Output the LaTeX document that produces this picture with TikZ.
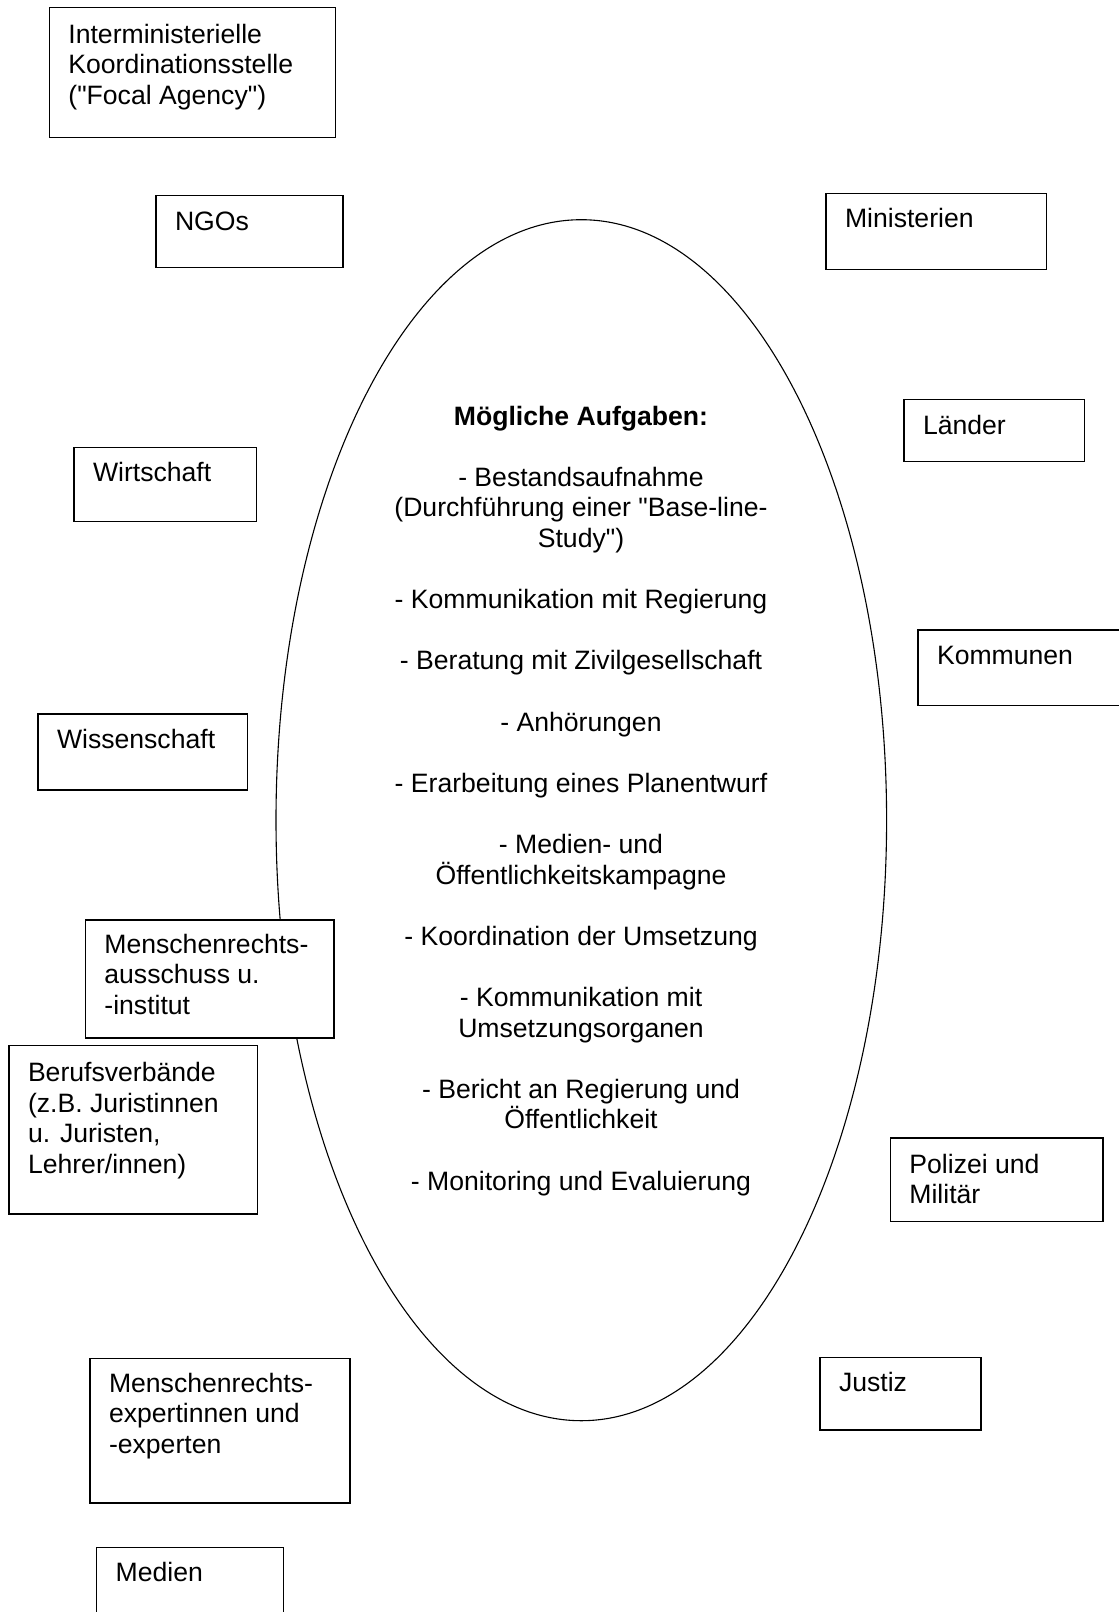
\documentclass[tikz,border=0pt]{standalone}
\usepackage{fontspec}
\setmainfont{Liberation Sans}[Ligatures=TeXOff]
\usetikzlibrary{shapes.geometric}
\tikzset{
  box/.style={draw, line width=1.3pt, fill=white, rectangle, inner sep=0pt, anchor=north west},
  lbl/.style={anchor=base west, align=left, inner sep=0pt, font=\fontsize{26.6}{30.6}\selectfont},
  oval/.style={draw, line width=1.1pt, ellipse, inner sep=0pt},
  tasks/.style={anchor=base, align=center, inner sep=0pt, font=\fontsize{26.6}{30.6}\selectfont}
}
\begin{document}
\begin{tikzpicture}[x=1pt, y=-1pt]
\clip (0,0) rectangle (1119,1612);
\fill[white] (0,0) rectangle (1119,1612);
% central ellipse
\node[oval, minimum width=610.6pt, minimum height=1201pt] (ell) at (581.3,820.2) {};
% anchor base = baseline of last line
\node[tasks] (tx) at (581,1190) {\textbf{Mögliche Aufgaben:}\\[30.6pt]
- Bestandsaufnahme\\(Durchführung einer "Base-line-\\Study")\\[30.6pt]
- Kommunikation mit Regierung\\[30.6pt]
- Beratung mit Zivilgesellschaft\\[30.6pt]
- Anhörungen\\[30.6pt]
- Erarbeitung eines Planentwurf\\[30.6pt]
- Medien- und\\Öffentlichkeitskampagne\\[30.6pt]
- Koordination der Umsetzung\\[30.6pt]
- Kommunikation mit\\Umsetzungsorganen\\[30.6pt]
- Bericht an Regierung und\\Öffentlichkeit\\[30.6pt]
- Monitoring und Evaluierung};
% boxes
\node[box, minimum width=286.3pt, minimum height=130pt] (focal) at (48.7,7) {};
\node[lbl] (focalt) at ([shift={(19.5,97.2)}]focal.north west) {Interministerielle\\Koordinationsstelle\\("Focal Agency")};
\node[box, minimum width=187pt, minimum height=72pt] (ngo) at (155.3,195) {};
\node[lbl] (ngot) at ([shift={(19.5,35)}]ngo.north west) {NGOs};
\node[box, minimum width=220.7pt, minimum height=76pt] (min) at (825.3,192.7) {};
\node[lbl] (mint) at ([shift={(19.5,35)}]min.north west) {Ministerien};
\node[box, minimum width=180.7pt, minimum height=62pt] (lae) at (903.3,399) {};
\node[lbl] (laet) at ([shift={(19.5,35)}]lae.north west) {Länder};
\node[box, minimum width=182.7pt, minimum height=74pt] (wir) at (73.3,446.7) {};
\node[lbl] (wirt) at ([shift={(19.5,35)}]wir.north west) {Wirtschaft};
\node[box, minimum width=220pt, minimum height=75.7pt] (kom) at (917.3,629.3) {};
\node[lbl] (komt) at ([shift={(19.5,35.5)}]kom.north west) {Kommunen};
\node[box, minimum width=209.4pt, minimum height=76pt] (wis) at (37.3,713.3) {};
\node[lbl] (wist) at ([shift={(19.5,35)}]wis.north west) {Wissenschaft};
\node[box, minimum width=248.6pt, minimum height=118pt] (mra) at (84.7,919.3) {};
\node[lbl] (mrat) at ([shift={(19.5,95.2)}]mra.north west) {Menschenrechts-\\ausschuss u.\\-institut};
\node[box, minimum width=248.4pt, minimum height=168.3pt] (ber) at (8.3,1045) {};
\node[lbl] (bert) at ([shift={(19.5,128.3)}]ber.north west) {Berufsverbände\\(z.B. Juristinnen\\u. Juristen,\\Lehrer/innen)};
\node[box, minimum width=212.6pt, minimum height=83.7pt] (pol) at (889.7,1137.3) {};
\node[lbl] (polt) at ([shift={(19.5,66.6)}]pol.north west) {Polizei und\\Militär};
\node[box, minimum width=260pt, minimum height=144.6pt] (mre) at (89.3,1357.7) {};
\node[lbl] (mret) at ([shift={(19.5,95.8)}]mre.north west) {Menschenrechts-\\expertinnen und\\-experten};
\node[box, minimum width=161pt, minimum height=72.3pt] (jus) at (819.3,1357) {};
\node[lbl] (just) at ([shift={(19.5,34.7)}]jus.north west) {Justiz};
\node[box, minimum width=186.7pt, minimum height=100pt] (med) at (96,1546.7) {};
\node[lbl] (medt) at ([shift={(19.5,34.3)}]med.north west) {Medien};
\end{tikzpicture}
\end{document}
